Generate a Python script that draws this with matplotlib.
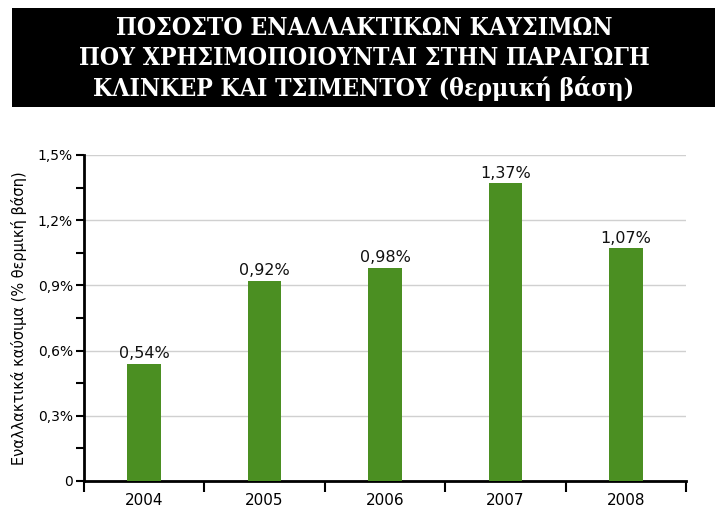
import matplotlib
matplotlib.use("Agg")
import matplotlib.pyplot as plt
from matplotlib.patches import Rectangle
from matplotlib.ticker import FixedLocator, MultipleLocator

years = ["2004", "2005", "2006", "2007", "2008"]
values = [0.54, 0.92, 0.98, 1.37, 1.07]
value_labels = ["0,54%", "0,92%", "0,98%", "1,37%", "1,07%"]
yticks = [0, 0.3, 0.6, 0.9, 1.2, 1.5]
ytick_labels = ["0", "0,3%", "0,6%", "0,9%", "1,2%", "1,5%"]
title_lines = ["ΠΟΣΟΣΤΟ ΕΝΑΛΛΑΚΤΙΚΩΝ ΚΑΥΣΙΜΩΝ",
               "ΠΟΥ ΧΡΗΣΙΜΟΠΟΙΟΥΝΤΑΙ ΣΤΗΝ ΠΑΡΑΓΩΓΗ",
               "ΚΛΙΝΚΕΡ ΚΑΙ ΤΣΙΜΕΝΤΟΥ (θερμική βάση)"]
ylabel = "Εναλλακτικά καύσιμα (% θερμική βάση)"

plt.rcParams['font.family'] = ['DejaVu Sans']
fig = plt.figure(figsize=(7.28, 5.07), dpi=100)

# title box
fig.patches.append(Rectangle((0.0165, 0.789), 0.9657, 0.196, transform=fig.transFigure,
                             facecolor="black", edgecolor="none", zorder=0))
for i, line in enumerate(title_lines):
    fig.text(0.5, 0.944 - i * 0.059, line, ha="center", va="center", color="white",
             fontsize=17.7, fontweight="bold", family="DejaVu Serif", fontstretch="condensed")

ax = fig.add_axes([0.1154, 0.0513, 0.8269, 0.643])
x = list(range(len(years)))
ax.bar(x, values, width=0.28, color="#4b8f22", zorder=3)
for xi, v, lab in zip(x, values, value_labels):
    ax.text(xi, v + 0.012, lab, ha="center", va="bottom", fontsize=11.5, color="#111111")

ax.set_xlim(-0.5, len(years) - 0.5)
ax.set_ylim(0, 1.5)
ax.yaxis.set_major_locator(FixedLocator(yticks))
ax.set_yticklabels(ytick_labels, fontsize=10)
ax.yaxis.set_minor_locator(MultipleLocator(0.15))
ax.tick_params(axis="y", which="both", direction="out", length=6, width=1.5, pad=2)
ax.grid(axis="y", which="major", color="#d0d0d0", linewidth=1, zorder=0)

ax.set_xticks(x)
ax.set_xticklabels(years, fontsize=11)
ax.xaxis.set_minor_locator(FixedLocator([i - 0.5 for i in range(len(years) + 1)]))
ax.tick_params(axis="x", which="major", length=0, pad=9)
ax.tick_params(axis="x", which="minor", direction="out", length=8, width=1.5)

for s in ["top", "right"]:
    ax.spines[s].set_visible(False)
for s in ["left", "bottom"]:
    ax.spines[s].set_linewidth(2)
    ax.spines[s].set_color("black")

fig.text(0.026, 0.373, ylabel, rotation=90, ha="center", va="center", fontsize=10.5)

fig.savefig("out.png", dpi=100)
